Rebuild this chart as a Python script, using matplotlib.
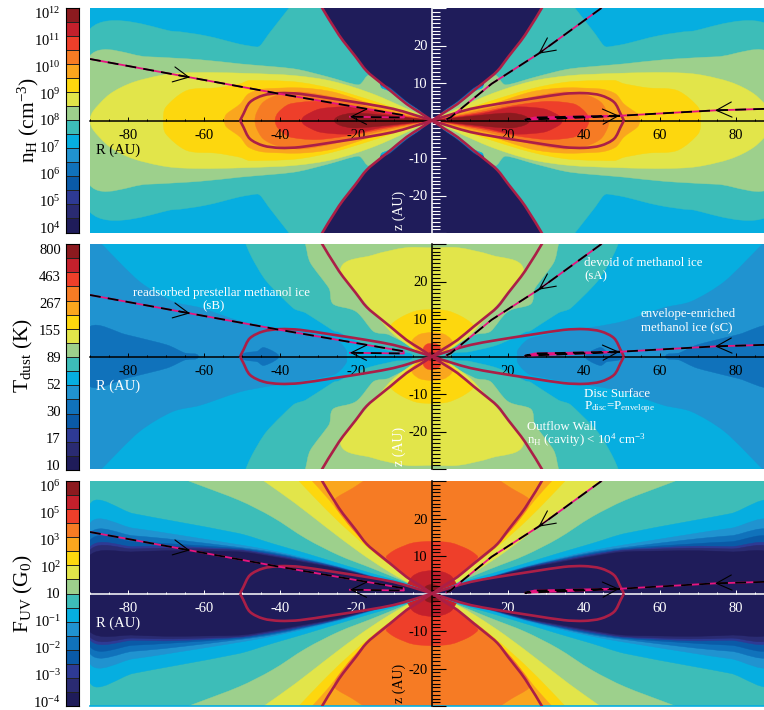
import matplotlib
matplotlib.use('Agg')
import matplotlib.pyplot as plt
from matplotlib.patches import PathPatch
from matplotlib.path import Path
from matplotlib.ticker import FixedLocator, MultipleLocator
import numpy as np

plt.rcParams['font.family'] = ['Liberation Serif', 'DejaVu Serif']
plt.rcParams['mathtext.fontset'] = 'custom'
plt.rcParams['mathtext.rm'] = 'Liberation Serif'
plt.rcParams['mathtext.default'] = 'regular'
plt.rcParams['axes.unicode_minus'] = False

# colour steps, lowest first
steps = ['#1f1c5a', '#2a2b72', '#2e3a94', '#0a5aa7', '#1072bb', '#2093d0', '#06aee0', '#3dbdb8',
	'#9dd08c', '#e2e54a', '#fdd70e', '#faa61e', '#f67b24', '#ee3f2a', '#c4202c', '#8c1a1f']

# labels of the colour bars, bottom to top
nh_labels = ['$10^{4}$', '$10^{5}$', '$10^{6}$', '$10^{7}$', '$10^{8}$', '$10^{9}$', '$10^{10}$', '$10^{11}$', '$10^{12}$']
t_labels = ['10', '17', '30', '52', '89', '155', '267', '463', '800']
uv_labels = ['$10^{-4}$', '$10^{-3}$', '$10^{-2}$', '$10^{-1}$', '10', '$10^{2}$', '$10^{3}$', '$10^{5}$', '$10^{6}$']

# curves shared by all panels (R, z in AU)
wall_R = [0, 3.3, 6.7, 11, 13.7, 17.2, 20.1, 24.5, 28.9, 29.5]
wall_z = [0, 2.2, 4.4, 8, 10.2, 13.2, 17, 22.8, 30, 31]
disc_R = [0, 5, 10.2, 17.2, 26, 34.7, 40, 44.4, 47.9, 49.6, 50.5]
disc_z = [0, 1.6, 3.1, 4.4, 5.8, 7.1, 7.3, 6.7, 4.9, 1.8, 0]
sB_R = [-90, -63.7, -40, -7.5, -7.4, -21.6]
sB_z = [16.4, 11.5, 7.1, 1.4, 0.8, 1.0]
sA_R = [44.6, 28, 15.7, 6.5, 5, 3.8]
sA_z = [30, 17.8, 9.8, 2.2, 0.9, 0.3]
sC_R = [87.4, 74.5, 50, 27, 24.5, 49.5]
sC_z = [3.1, 2.7, 1.3, 0.8, 0.2, 1.2]
# arrow tip and tail
arrow_tips = [(-63.7, 11.5), (-21.6, 1.0), (28, 17.8), (74.5, 2.7), (49.3, 1.25)]
arrow_tails = [(-66.7, 12.05), (-18.6, 1.0), (31, 20), (77.5, 2.85), (46.3, 1.1)]

# density panel, one quadrant of each contour
nh_teal_R = [0, 37.6, 43, 44.8, 46, 50.8, 59.6, 68.3, 90, 90, 0]
nh_teal_z = [30, 30, 23, 20.4, 19.6, 20.4, 22.6, 23.8, 24.4, 0, 0]
nh_green_R = [0, 16.3, 19.4, 28, 36.5, 50.5, 61, 75, 90, 90, 0]
nh_green_z = [0, 12, 9.5, 11.8, 13.8, 15.1, 16.2, 17, 17.3, 0, 0]
nh_strip6_R = [0, 3, 6.7, 11, 13.4, 0]
nh_strip6_z = [0, 1.9, 4.3, 7.7, 9.3, 30]
nh_strip5_R = [0, 3, 6.7, 11, 13.5, 0]
nh_strip5_z = [0, 2.3, 4.8, 8.2, 9.8, 30]
nh_strip4_R = [0, 3, 6.7, 11, 13.6, 0]
nh_strip4_z = [0, 2.5, 5, 8.5, 10, 30]
nh_cavity_R = [0, 3, 6.7, 11, 13.7, 17.2, 20.1, 24.5, 28.9, 0]
nh_cavity_z = [0, 2.6, 5.2, 8.8, 10.2, 13.2, 17, 22.8, 30, 30]
nh_yg_R = [0, 14.6, 26, 36.5, 49.6, 61, 69.8, 78.6, 84.7, 89, 90, 0]
nh_yg_z = [0, 6.7, 10.4, 12, 12.6, 12.8, 12.3, 10.2, 7.1, 2.7, 0, 0]
nh_gold_R = [0, 14.6, 26, 36, 47.9, 50.5, 56.7, 64.5, 70, 70.7, 0]
nh_gold_z = [0, 4.9, 8.4, 10.3, 10.7, 9.8, 8.7, 8, 3.6, 0, 0]
nh_oy_R = [0, 14.6, 26, 34.7, 44.4, 48.3, 50.5, 54, 54.7, 0]
nh_oy_z = [0, 4, 7.6, 8.7, 8.4, 7.1, 4.4, 1.8, 0, 0]
nh_or_R = [0, 14.6, 26, 34.7, 40.9, 44.4, 46.1, 46.6, 0]
nh_or_z = [0, 3.1, 6.2, 7.6, 6.7, 4.9, 2.2, 0, 0]
nh_ro_R = [0, 12.8, 21.6, 30.4, 37.4, 40.4, 41.3, 0]
nh_ro_z = [0, 2.2, 4, 5.1, 4.4, 2.2, 0, 0]
nh_red_R = [0, 12.8, 21.6, 29.5, 33.4, 34.3, 0]
nh_red_z = [0, 1.8, 3.6, 3.1, 1.3, 0, 0]
nh_dark_R = [0, 14.6, 20.7, 24.2, 25.7, 0]
nh_dark_z = [0, 1.6, 2, 1.3, 0, 0]

# temperature panel
t_out_R = [22.5, 22.5, 24, 26, 34, 43.5, 50.8, 61, 68.3, 77, 85.9, 87, 90, 90]
t_out_z = [0, 1.5, 3.5, 4.9, 6.5, 8, 9.5, 13, 14.7, 20, 28.9, 30, 30, 0]
t_deep_R = [61.5, 65, 69.8, 80.4, 90, 90]
t_deep_z = [0, 0.9, 3.1, 5.8, 8, 0]
t_blob_R = [50.5, 49, 46, 44.4, 42, 40.5, 40.5]
t_blob_z = [0, 1, 1.4, 2.4, 1.5, 0.5, 0]
t_teal_R = [0, 49, 47.3, 43.5, 36.5, 33.2, 26, 24.5, 17.2, 10, 5, 0]
t_teal_z = [30, 30, 26.2, 20, 12.9, 11.6, 6.9, 6.5, 3.1, 1.3, 0, 0]
t_green_R = [0, 33.3, 32, 27.1, 26, 20, 15.4, 11.3, 0]
t_green_z = [30, 30, 25, 18.2, 14, 12, 6.7, 5.8, 0]
t_yg_R = [0, 7, 15.7, 24, 19.2, 14, 10, 4.5, 0]
t_yg_z = [29, 29, 27, 23.6, 16.4, 10.2, 5.8, 1.8, 0]
t_gold_R = [0, 4, 7.5, 10, 10.8, 8, 5, 3, 0]
t_gold_z = [12.5, 12.2, 10.8, 9.2, 8, 5, 2.5, 1, 0]
t_oy_R = [0, 3, 4.8, 5.4, 3.4, 0]
t_oy_z = [6.4, 6, 4.8, 3.4, 1.3, 0]
t_ro_R = [0, 1.5, 2.3, 1.5, 0]
t_ro_z = [3.5, 3.2, 2, 0.8, 0]
t_red_R = [0, 0.8, 1.1, 0]
t_red_z = [1.2, 1, 0, 0]

# UV panel
uv_green_R = [0, 64, 50.8, 42, 33.2, 24.5, 15.7, 7, 0]
uv_green_z = [30, 30, 24.9, 20.4, 14.7, 10.2, 6.7, 3.1, 0]
uv_yg_R = [0, 44.2, 35.9, 28, 19.2, 11.3, 3.4, 0]
uv_yg_z = [30, 30, 24, 17.8, 11.1, 5.8, 1.3, 0]
uv_gold_R = [0, 35, 30.6, 24.5, 16.6, 9.6, 3, 0]
uv_gold_z = [30, 30, 25.3, 19.1, 12, 6.7, 1.8, 0]
uv_oy_R = [0, 31.5, 27, 21, 14.8, 7.8, 3, 0]
uv_oy_z = [30, 30, 24.9, 17.3, 11.5, 5.8, 2, 0]
uv_or_R = [0, 18, 21, 25.4, 25.2, 20.8, 14.6, 6.5, 0]
uv_or_z = [30, 30, 28, 25.3, 22.8, 17, 10.5, 4.3, 0]
uv_ro_R = [0, 5, 9, 11, 12, 6.5, 0]
uv_ro_z = [13.9, 13.5, 12, 10.8, 9.5, 4.4, 0]
uv_red_R = [0, 3, 5, 6, 6.3, 0]
uv_red_z = [6.1, 5.7, 4.7, 3.3, 2.4, 0]
uv_dark_R = [0, 1.5, 2.2, 0]
uv_dark_z = [2.4, 2, 0.7, 0]
# disc side of the UV panel: height of each step over one R grid
uv_disc_R = [0, 7, 15.7, 24.5, 33.2, 42, 50.8, 68, 78.6, 90, 90, 0]
uv_cyan_z = [0, 2.7, 5.3, 8, 10.7, 13.3, 16, 19.3, 21.3, 23.8, 0, 0]
uv_s5_z = [0, 2.2, 4.6, 7.2, 9.4, 11.4, 13, 15.8, 17.4, 18.7, 0, 0]
uv_s4_z = [0, 2.1, 4.5, 7, 9.1, 11, 12.3, 14.4, 15.4, 16, 0, 0]
uv_s3_z = [0, 2.05, 4.4, 6.9, 8.9, 10.7, 12, 13.2, 13.8, 14.2, 0, 0]
uv_s2_z = [0, 2, 4.3, 6.8, 8.7, 10.4, 11.7, 12.6, 12.5, 12.4, 0, 0]
uv_s1_z = [0, 1.95, 4.25, 6.7, 8.5, 10.1, 11.5, 12.1, 11.9, 11.6, 0, 0]
uv_s0_z = [0, 1.9, 4.2, 6.5, 8.2, 9.8, 11.1, 11.4, 11.1, 10.2, 0, 0]

nh_layers = [(nh_teal_R, nh_teal_z, 7), (nh_green_R, nh_green_z, 8), (nh_strip6_R, nh_strip6_z, 6),
	(nh_strip5_R, nh_strip5_z, 5), (nh_strip4_R, nh_strip4_z, 3), (nh_cavity_R, nh_cavity_z, 0),
	(nh_yg_R, nh_yg_z, 9), (nh_gold_R, nh_gold_z, 10), (nh_oy_R, nh_oy_z, 11), (nh_or_R, nh_or_z, 12),
	(nh_ro_R, nh_ro_z, 13), (nh_red_R, nh_red_z, 14), (nh_dark_R, nh_dark_z, 15)]
t_layers = [(t_out_R, t_out_z, 5), (t_deep_R, t_deep_z, 4), (t_blob_R, t_blob_z, 4), (t_teal_R, t_teal_z, 7),
	(t_green_R, t_green_z, 8), (t_yg_R, t_yg_z, 9), (t_gold_R, t_gold_z, 10), (t_oy_R, t_oy_z, 11),
	(t_ro_R, t_ro_z, 13), (t_red_R, t_red_z, 14)]
uv_layers = [(uv_green_R, uv_green_z, 8), (uv_yg_R, uv_yg_z, 9), (uv_gold_R, uv_gold_z, 10), (uv_oy_R, uv_oy_z, 11),
	(uv_or_R, uv_or_z, 12), (uv_ro_R, uv_ro_z, 13), (uv_red_R, uv_red_z, 14), (uv_dark_R, uv_dark_z, 15),
	(uv_disc_R, uv_cyan_z, 6), (uv_disc_R, uv_s5_z, 5), (uv_disc_R, uv_s4_z, 4), (uv_disc_R, uv_s3_z, 3),
	(uv_disc_R, uv_s2_z, 2), (uv_disc_R, uv_s1_z, 1), (uv_disc_R, uv_s0_z, 0)]

W, H = 764, 710
fig = plt.figure(figsize=(W / 100, H / 100), dpi=100)


def tangent(p, i, closed):
	n = len(p)
	if not closed and i == 0:
		d = p[1] - p[0]
	elif not closed and i == n - 1:
		d = p[i] - p[i - 1]
	else:
		a, b = p[(i - 1) % n], p[(i + 1) % n]
		d = b - a
		if closed and p[i][0] == 0 and p[i][1] == 0:
			return np.zeros(2)
		# at the panel's top edge the contour just runs on, no turn towards the next point
		if closed and abs(p[i][1]) == 30 and p[i][0] != 0:
			if abs(a[1]) != 30 and abs(b[1]) == 30:
				d = p[i] - a
			elif abs(a[1]) == 30 and abs(b[1]) != 30:
				d = b - p[i]
		# contours meet the axes square on, the mirror copy carries on from there
		elif closed and p[i][1] == 0 and d[1] != 0:
			d = np.array([0, d[1]])
		elif closed and p[i][0] == 0 and d[0] != 0:
			d = np.array([d[0], 0])
	return d / np.hypot(*d)


def curve(R, z, closed=True):
	# bezier through the read points so the contours are not angular
	p = np.column_stack([R, z]).astype(float)
	n = len(p)
	verts = [p[0]]
	codes = [Path.MOVETO]
	for i in range(n if closed else n - 1):
		j = (i + 1) % n
		prev_i = np.hypot(*(p[i] - p[i - 1])) if closed or i > 0 else 1e9
		next_j = np.hypot(*(p[(j + 1) % n] - p[j])) if closed or j < n - 1 else 1e9
		seg = np.hypot(*(p[j] - p[i]))
		verts += [p[i] + tangent(p, i, closed) * min(seg, prev_i) / 3, p[j] - tangent(p, j, closed) * min(seg, next_j) / 3, p[j]]
		codes += [Path.CURVE4] * 3
	return Path(verts, codes)


def panel(top, layers, back, xcol, labcol, zcol, Rcol, zlabcol, ticklabcol):
	ax = fig.add_axes([90 / W, 1 - (top + 225) / H, 674 / W, 225 / H])
	ax.set_xlim(-90, 87.37)
	ax.set_ylim(-30, 30)
	ax.set_facecolor(steps[back])
	for R, z, c in layers:
		for sx in (1, -1):
			for sz in (1, -1):
				ax.add_patch(PathPatch(curve(sx * np.array(R), sz * np.array(z)), fc=steps[c], ec=steps[c], lw=0.3, zorder=1))
	for sx in (1, -1):
		for sz in (1, -1):
			ax.add_patch(PathPatch(curve(sx * np.array(wall_R), sz * np.array(wall_z), False), fc='none', ec='#ab1f47', lw=1.9, zorder=3))
			ax.add_patch(PathPatch(curve(sx * np.array(disc_R), sz * np.array(disc_z), False), fc='none', ec='#ab1f47', lw=1.9, zorder=3))
	for sR, sz in [(sB_R, sB_z), (sA_R, sA_z), (sC_R, sC_z)]:
		ax.plot(sR, sz, color='#e8147f', lw=1.3, zorder=4)
		ax.plot(sR, sz, color='k', lw=1.3, ls=(0, (6, 4)), zorder=4.1)
	for tip, tail in zip(arrow_tips, arrow_tails):
		ax.annotate('', xy=tip, xytext=tail, zorder=5, arrowprops=dict(arrowstyle='->,head_length=0.85,head_width=0.42',
			mutation_scale=13, lw=0.8, color='k', shrinkA=0, shrinkB=0))
	for s in ('top', 'right'):
		ax.spines[s].set_visible(False)
	ax.spines['bottom'].set_position('zero')
	ax.spines['left'].set_position('zero')
	ax.spines['bottom'].set_color(xcol)
	ax.spines['left'].set_color(zcol)
	ax.spines['bottom'].set_linewidth(1.1)
	ax.spines['left'].set_linewidth(1.1)
	ax.set_axisbelow(False)
	ax.xaxis.set_major_locator(FixedLocator([-80, -60, -40, -20, 20, 40, 60, 80]))
	ax.xaxis.set_minor_locator(MultipleLocator(5))
	ax.yaxis.set_major_locator(FixedLocator([-30, -20, -10, 10, 20, 30]))
	ax.yaxis.set_minor_locator(MultipleLocator(1))
	ax.set_yticklabels(['', '-20', '-10', '10', '20', ''])
	ax.tick_params(axis='x', which='major', direction='in', length=3.2, width=0.7, color=xcol, labelcolor=labcol, labelsize=10.5, pad=6)
	ax.tick_params(axis='x', which='minor', direction='in', length=1.6, width=0.7, color=xcol)
	ax.tick_params(axis='y', which='major', direction='in', length=10, width=0.8, color=zcol, labelcolor=ticklabcol, labelsize=10.5, pad=3)
	ax.tick_params(axis='y', which='minor', direction='in', length=5.8, width=0.8, color=zcol)
	ax.text(-82.6, -8, 'R (AU)', color=Rcol, fontsize=10.5, ha='center', va='center', zorder=6)
	ax.text(-8.7, -24, 'z (AU)', color=zlabcol, fontsize=10, rotation=90, ha='center', va='center', zorder=6)
	return ax


def bar(y0, y1, labels, title, tx, ty):
	cax = fig.add_axes([65.7 / W, 1 - y1 / H, 13.3 / W, (y1 - y0) / H])
	for i in range(16):
		cax.bar(0, 1, bottom=i, width=1, color=steps[i], edgecolor='#222222', lw=0.7)
	cax.set_xlim(-0.5, 0.5)
	cax.set_ylim(0, 16)
	cax.set_xticks([])
	cax.set_yticks([0.35 + i * 1.9125 for i in range(9)])
	cax.set_yticklabels(labels)
	cax.tick_params(axis='y', length=0, labelsize=10.5, pad=3.5)
	for s in cax.spines.values():
		s.set_linewidth(0.8)
	fig.text(tx / W, 1 - ty / H, title, rotation=90, fontsize=15.5, ha='center', va='center')


ax1 = panel(8, nh_layers, 6, 'k', 'k', 'w', 'k', 'w', 'w')
ax2 = panel(244, t_layers, 6, 'k', 'k', 'k', 'w', 'w', 'k')
ax3 = panel(481, uv_layers, 7, 'w', 'w', 'k', 'w', 'k', 'k')
ax3.axhline(-30, color='#06aee0', lw=1.2, clip_on=False, zorder=1)

bar(7.5, 232.5, nh_labels, 'n$_{H}$ (cm$^{-3}$)', 28, 120)
bar(244, 470, t_labels, 'T$_{dust}$ (K)', 23, 355)
bar(481, 706, uv_labels, 'F$_{UV}$ (G$_{0}$)', 23, 594)

# notes on the temperature panel
note = dict(color='w', fontsize=9.3, va='center', zorder=6)
ax2.text(-55.5, 16.9, 'readsorbed prestellar methanol ice', ha='center', **note)
ax2.text(-57.4, 13.5, '(sB)', ha='center', **note)
ax2.text(40, 24.8, 'devoid of methanol ice', **note)
ax2.text(40, 21.4, '(sA)', **note)
ax2.text(55, 11.2, 'envelope-enriched', **note)
ax2.text(55, 7.7, 'methanol ice (sC)', **note)
ax2.text(40, -9.9, 'Disc Surface', **note)
ax2.text(40, -13.4, 'P$_{disc}$=P$_{envelope}$', **note)
ax2.text(25, -18.8, 'Outflow Wall', **note)
ax2.text(25, -22.4, 'n$_{H}$ (cavity) < 10$^{4}$ cm$^{-3}$', **note)

fig.savefig('out.png', dpi=100)
